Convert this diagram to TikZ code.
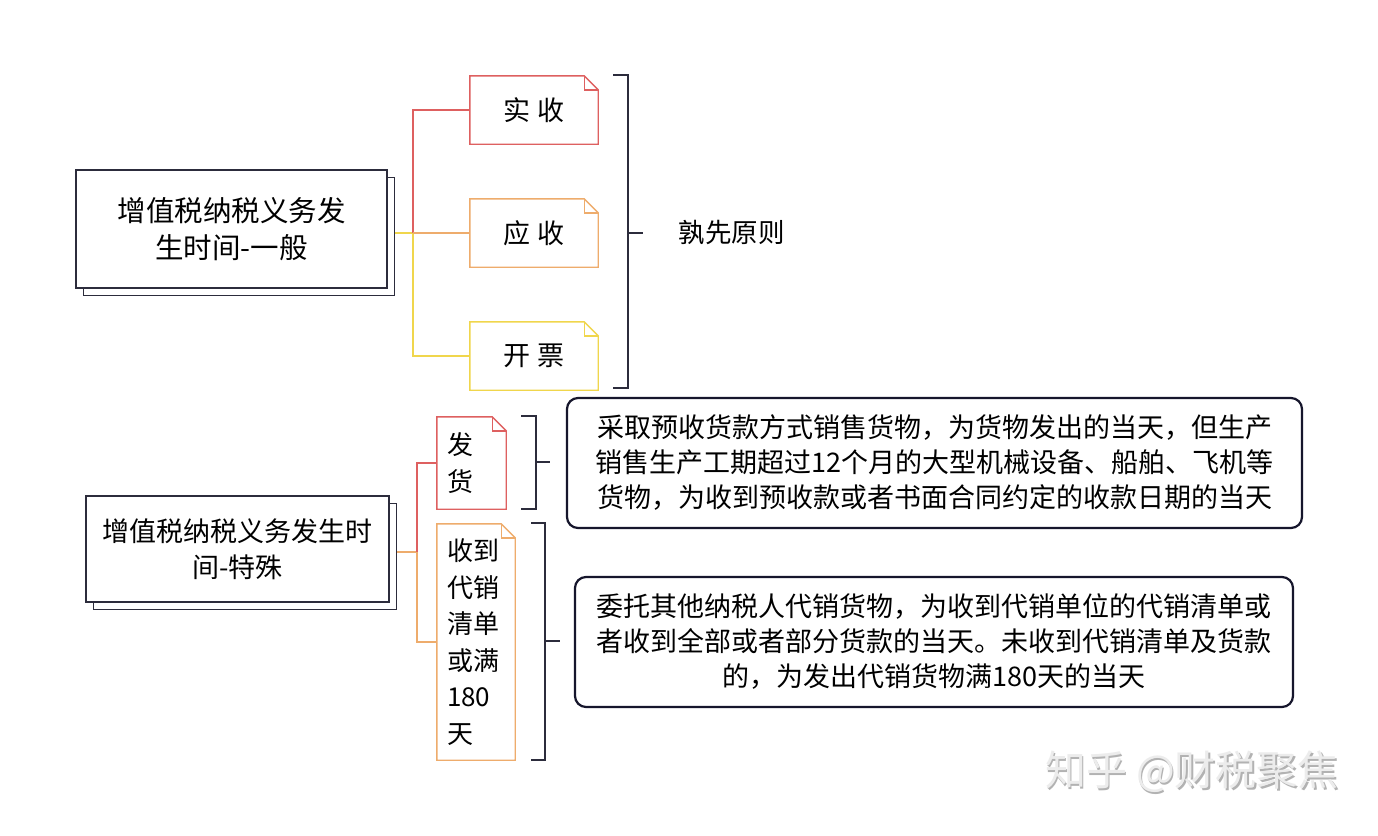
\documentclass[tikz,border=0pt]{standalone}
\usepackage{fontspec}
\setmainfont{Noto Sans CJK SC}
\usetikzlibrary{shadows}
\definecolor{cred}{RGB}{222,96,96}
\definecolor{corange}{RGB}{238,172,108}
\definecolor{cyellow}{RGB}{240,214,76}
\definecolor{cdark}{RGB}{44,44,60}
\definecolor{cnavy}{RGB}{22,22,44}
\tikzset{
  mainbox/.style={draw=cdark, line width=1.5pt, fill=white, align=center, inner sep=0pt,
    copy shadow={shadow xshift=7.5pt, shadow yshift=-7.5pt, draw=cdark, fill=white, line width=1.5pt}},
  leaf/.style={inner sep=0pt, font=\fontsize{27pt}{37pt}\selectfont},
  vleaf/.style={inner xsep=10pt, inner ysep=0pt, align=left, font=\fontsize{26pt}{36.5pt}\selectfont},
  tbox/.style={draw=cnavy, line width=2.2pt, rounded corners=11pt, fill=white, align=center, inner sep=0pt,
    font=\fontsize{27pt}{35pt}\selectfont},
  conn/.style={line width=1.5pt},
  brack/.style={draw=cdark, line width=1.6pt},
  plain/.style={font=\fontsize{26.5pt}{32pt}\selectfont},
  wmark/.style={font=\fontsize{41pt}{44pt}\selectfont},
}
\newcommand{\docframe}[2]{%
  \draw[#2, line width=1.4pt, line join=miter] (#1.north west) -- ([xshift=-14pt]#1.north east) -- ([yshift=-14pt]#1.north east) -- (#1.south east) -- (#1.south west) -- cycle;
  \draw[#2, line width=1.4pt] ([xshift=-14pt]#1.north east) |- ([yshift=-14pt]#1.north east);
}
\begin{document}
\begin{tikzpicture}[x=1pt,y=-1pt]
\useasboundingbox[fill=white] (0,0) rectangle (1378,835);

% ---------- upper part ----------
\node[mainbox, minimum width=311pt, minimum height=118pt, font=\fontsize{28.5pt}{37pt}\selectfont] (b1) at (231.5,229) {增值税纳税义务发\\生时间-一般};

\node[leaf, minimum width=128pt, minimum height=68pt] (c1) at (534,110) {实 收};
\node[leaf, minimum width=128pt, minimum height=68pt] (c2) at (534,233) {应 收};
\node[leaf, minimum width=128pt, minimum height=68pt] (c3) at (534,356) {开 票};
\docframe{c1}{cred}
\docframe{c2}{corange}
\docframe{c3}{cyellow}

\coordinate (j1) at (413,233);
\draw[conn, cyellow] ([xshift=7.5pt,yshift=-4pt]b1.east) -- (j1);
\draw[conn, cred] (j1) |- (c1.west);
\draw[conn, cyellow] (j1) |- (c3.west);
\draw[conn, corange] (j1) -- (c2.west);

\draw[brack] (613,75) -- (628,75) -- (628,388) -- (613,388);
\coordinate (k1) at (628,233);
\node[plain, anchor=west] (r1) at (675,233) {孰先原则};
\draw[brack] (k1) -- ++(15,0);

% ---------- lower part ----------
\node[mainbox, minimum width=303pt, minimum height=106pt, font=\fontsize{27pt}{36pt}\selectfont] (b2) at (237.5,549) {增值税纳税义务发生时\\间-特殊};

\node[vleaf, text width=49pt, minimum height=92pt] (d1) at (471.5,463) {发\\货};
\node[vleaf, text width=58pt, minimum height=236pt] (d2) at (476,642) {收到\\代销\\清单\\或满\\180\\天};
\docframe{d1}{cred}
\docframe{d2}{corange}

\coordinate (j2) at (417,552);
\draw[conn, corange] ([xshift=7.5pt,yshift=-3pt]b2.east) -- (j2);
\draw[conn, cred] (j2) |- (d1.west);
\draw[conn, corange] (j2) |- (d2.west);

\draw[brack] (521,416) -- (536,416) -- (536,509) -- (521,509);
\draw[brack] (536,462) -- (550,462);
\draw[brack] (531,523) -- (545,523) -- (545,760) -- (531,760);
\draw[brack] (545,641) -- (560,641);

\node[tbox, minimum width=735pt, minimum height=130pt] (t1) at (934.5,463)
  {采取预收货款方式销售货物，为货物发出的当天，但生产\\销售生产工期超过12个月的大型机械设备、船舶、飞机等\\货物，为收到预收款或者书面合同约定的收款日期的当天};
\node[tbox, minimum width=718pt, minimum height=130pt] (t2) at (934,642)
  {委托其他纳税人代销货物，为收到代销单位的代销清单或\\者收到全部或者部分货款的当天。未收到代销清单及货款\\的，为发出代销货物满180天的当天};

% ---------- watermark ----------
\node[wmark, text=gray!60] (w0) at (1193.5,773.5) {知乎 @财税聚焦};
\node[wmark, text=gray!15] (w1) at (1192,772) {知乎 @财税聚焦};
\end{tikzpicture}
\end{document}
